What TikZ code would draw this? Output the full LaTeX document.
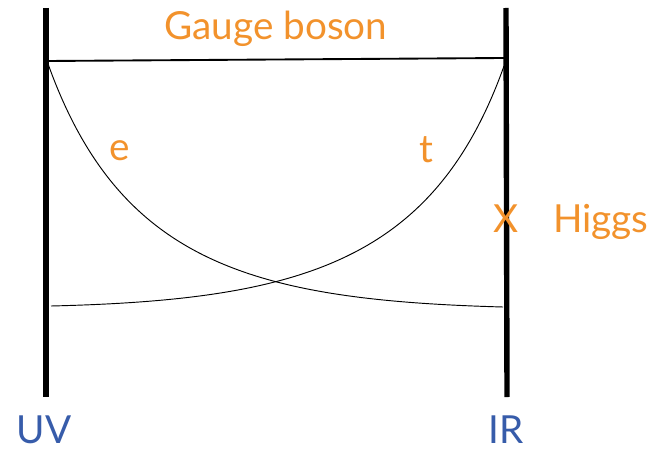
\documentclass[tikz,border=0pt]{standalone}
\usepackage{fontspec}
\setmainfont{Lato}
\definecolor{labelorange}{RGB}{242, 146, 44}
\definecolor{braneblue}{RGB}{55, 92, 170}
\usepackage{tikz}
\usetikzlibrary{positioning, calc}

\begin{document}
\begin{tikzpicture}[
  x=0.03cm, y=-0.03cm,
  brane/.style={line width=4.6pt},
  gaugeline/.style={line width=1.6pt},
  fermion/.style={line width=0.8pt},
  olabel/.style={text=labelorange, font=\fontsize{33}{36}\selectfont, inner sep=0pt, anchor=base},
  blabel/.style={text=braneblue, font=\fontsize{33}{36}\selectfont, inner sep=0pt, anchor=base}
]
  \useasboundingbox (0,0) rectangle (649,452);

  \coordinate (uvtop) at (46,8);
  \coordinate (uvbot) at (46,397);
  \coordinate (irtop) at (506,8);
  \coordinate (irbot) at (507,397);
  \coordinate (gaugeL) at (47,61);
  \coordinate (gaugeR) at (504,58);
  \coordinate (eR) at (503,307);
  \coordinate (tL) at (51,306);
  \coordinate (tR) at (504,66);

  \draw[brane] (uvtop) -- (uvbot);
  \draw[brane] (irtop) -- (irbot);
  \draw[gaugeline] (gaugeL) -- (gaugeR);
  \draw[fermion] (gaugeL) .. controls (118,262) and (250,300) .. (eR);
  \draw[fermion] (tL) .. controls (300,300) and (434,262) .. (tR);

  \node[olabel] (gauge) at (276,40) {Gauge boson};
  \node[olabel] (elabel) at (120,161) {e};
  \node[olabel] (tlabel) at (426,162) {t};
  \node[olabel] (cross) at (506,232) {X};
  \node[olabel] (higgs) at (601,232) {Higgs};
  \node[blabel] (uv) at (44,443) {UV};
  \node[blabel] (ir) at (506,443) {IR};
\end{tikzpicture}
\end{document}
